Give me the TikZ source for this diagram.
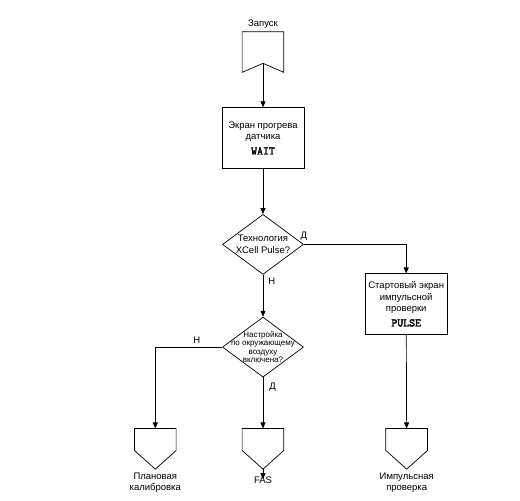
\documentclass[tikz,border=0pt]{standalone}
\usepackage{fontspec}
\setmainfont{Liberation Sans}
\newfontfamily\codefont{Latin Modern Mono}[AutoFakeBold=2.5]
\usetikzlibrary{positioning,shapes.geometric,arrows.meta}

\begin{document}
\begin{tikzpicture}[
            x=1pt,y=1pt,
            node distance=40pt,
            line width=0.7pt,
            every node/.append style={font=\fontsize{9.5}{11.5}\selectfont,align=center},
            flowbox/.style={draw,minimum width=82pt,minimum height=61pt,inner sep=2pt},
            decision/.style={draw,diamond,minimum width=81pt,minimum height=60pt,aspect=1.35,inner sep=-8pt},
            connector/.style={minimum width=41pt,minimum height=40pt,inner sep=0pt},
            yn/.style={inner sep=1pt},
            flow/.style={-{Triangle[length=6pt,width=5pt]}}
        ]
            \useasboundingbox (-263,52) rectangle (257,-449);
            \node (start) [connector,label={[yshift=-1pt]above:Запуск}] {};
            \node (wait)  [flowbox,below=35pt of start] {Экран прогрева\\датчика\\[3pt]{\codefont\bfseries\fontsize{11.5}{12}\selectfont WAIT}};
            \node (dia1)  [decision,below=45pt of wait] {Технология\\XCell Pulse?};
            \node (dia2)  [decision,below=42pt of dia1,font=\fontsize{8}{8.3}\selectfont] {Настройка\\по окружающему\\воздуху\\включена?};
            \node (pulse) [flowbox,below right=29pt and 61pt of dia1.east,anchor=north west] {Стартовый экран\\импульсной\\проверки\\[3pt]{\codefont\bfseries\fontsize{11.5}{12}\selectfont PULSE}};
            \node (fas)   [connector,below=51pt of dia2,label={[label distance=4pt]below:FAS}] {};
            \node (cal)   [connector,left=66pt of fas,label={below:Плановая\\калибровка}] {};
            \node (imp)   [connector,right=102pt of fas,label={below:Импульсная\\проверка}] {};
            % start connector with notch
            \draw (start.north west) -- (start.north east) -- (start.south east)
                -- ([yshift=9pt]start.south) -- (start.south west) -- cycle;
            \coordinate (notch) at ([yshift=9pt]start.south);
            % off-page connectors
            \foreach \n in {cal,fas,imp}
                \draw (\n.north west) -- (\n.north east) -- ([yshift=-22pt]\n.north east)
                    -- (\n.south) -- ([yshift=-22pt]\n.north west) -- cycle;
            \coordinate (fasend) at ([yshift=-10pt]fas.south);
            \draw[flow] (notch) -- (wait);
            \draw[flow] (wait) -- (dia1);
            \draw[flow] (dia1.east) -| node[pos=0,yn,anchor=south,yshift=3pt] {Д} (pulse.north);
            \draw[flow] (dia1.south) -- node[pos=0,yn,anchor=north west,xshift=4pt,yshift=-2pt] {Н} (dia2.north);
            \draw[flow] (dia2.west) -| node[pos=0.19,yn,above,yshift=2pt] {Н} (cal.north);
            \draw[flow] (dia2.south) -- node[pos=0,yn,anchor=north west,xshift=5pt,yshift=-4pt] {Д} (fas.north);
            \draw[flow] (pulse) -- (imp);
            \draw[flow] (fas.south) -- (fasend);
        \end{tikzpicture}
\end{document}
